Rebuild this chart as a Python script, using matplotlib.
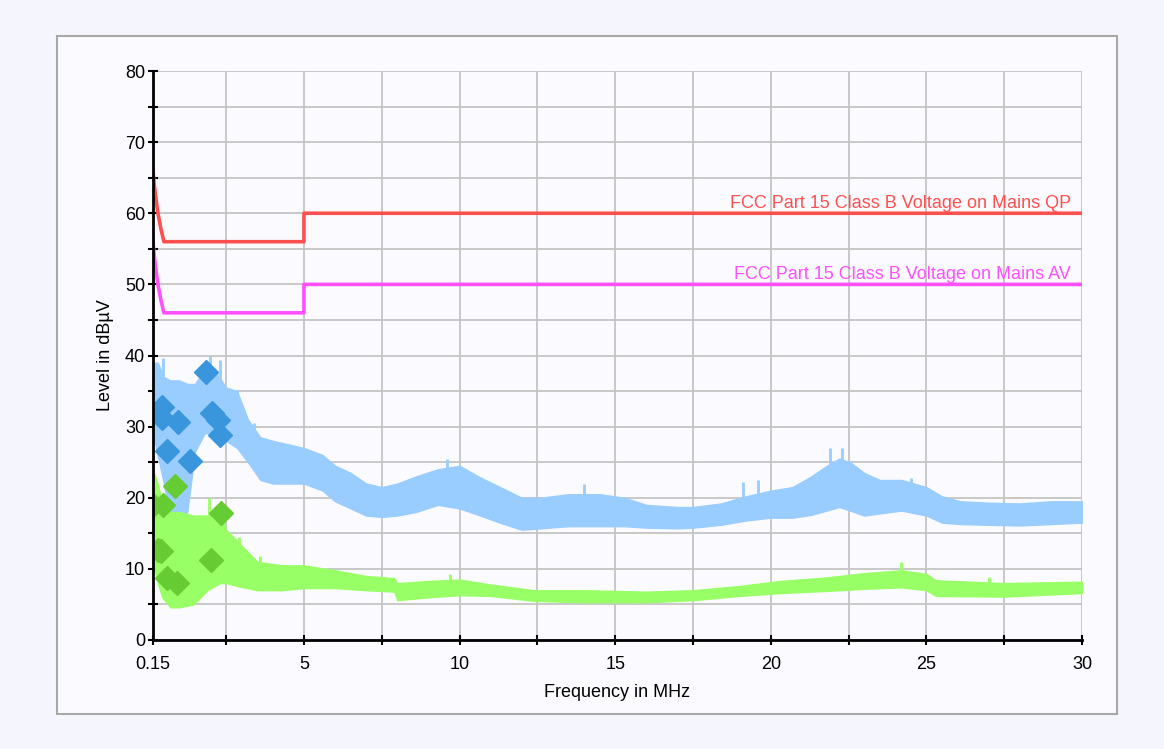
import matplotlib
matplotlib.use("Agg")
import matplotlib.pyplot as plt
from matplotlib.patches import Rectangle
from matplotlib.ticker import FixedLocator, NullFormatter

plt.rcParams['font.family'] = ['Liberation Sans', 'DejaVu Sans']

# limit lines (FCC Part 15 Class B, mains)
qp_freq = [0.15, 0.2, 0.3, 0.4, 0.5, 5.0, 5.0, 30.0]
qp_level = [66.0, 63.6, 60.2, 57.9, 56.0, 56.0, 60.0, 60.0]
av_freq = [0.15, 0.2, 0.3, 0.4, 0.5, 5.0, 5.0, 30.0]
av_level = [56.0, 53.6, 50.2, 47.9, 46.0, 46.0, 50.0, 50.0]

# peak scan, envelope (MHz, dBuV)
pk_freq = [0.15, 0.3, 0.5, 0.7, 1.0, 1.25, 1.5, 1.8, 2.2, 2.5, 2.85, 3.2, 3.6,
           4.0, 4.5, 5.0, 5.6, 6.0, 6.5, 7.0, 7.5, 8.0, 8.6, 9.3, 10.0, 10.6,
           11.3, 12.0, 12.6, 13.5, 14.5, 15.3, 16.0, 17.0, 17.5, 18.4, 19.2,
           20.0, 20.7, 21.3, 21.8, 22.2, 22.55, 23.0, 23.5, 24.2, 25.0, 25.5,
           26.1, 27.0, 28.0, 29.0, 30.0]
pk_low = [29, 26, 22, 17, 16.5, 18, 26.5, 29, 29.5, 28, 27, 25, 22.5,
          22, 22, 22, 21, 19.5, 18.5, 17.5, 17.3, 17.5, 18, 19, 18.5, 17.6,
          16.5, 15.5, 15.7, 16, 16, 16, 15.8, 15.7, 15.8, 16.2, 16.8,
          17.2, 17.2, 17.6, 18.2, 18.7, 18.2, 17.5, 17.8, 18.2, 17.5, 16.5,
          16.3, 16.2, 16.1, 16.3, 16.5]
pk_high = [39, 39, 37, 36.5, 36.5, 36, 36, 38, 37.5, 35.5, 35, 31, 28.5,
           28, 27.5, 27, 26, 24.5, 23.5, 22, 21.5, 22, 23, 24, 24.5, 23,
           21.5, 20, 20, 20.5, 20.5, 20, 19, 18.7, 18.7, 19.2, 20.2,
           21, 21.5, 23, 24.5, 25.5, 25, 23.5, 22.5, 22.5, 21.5, 20.2,
           19.5, 19.3, 19.2, 19.5, 19.5]

# isolated spikes sticking out of the peak trace
pk_spike_f = [0.47, 1.98, 2.3, 2.85, 3.4, 9.6, 14.0, 19.1, 19.6, 21.9, 22.3, 24.5]
pk_spike_v = [39.6, 40.0, 39.4, 35.2, 30.5, 25.5, 22.0, 22.2, 22.5, 27.0, 27.0, 22.8]

# average scan envelope
avg_freq = [0.15, 0.3, 0.45, 0.7, 1.0, 1.45, 1.9, 2.3, 2.5, 2.95, 3.5, 4.3,
            5.0, 6.0, 7.0, 7.9, 8.0, 9.0, 10.0, 11.0, 12.4, 14.0, 16.0, 17.5,
            19.0, 20.3, 21.8, 23.0, 24.2, 25.0, 25.3, 27.5, 30.0]
avg_low = [11, 8, 6, 4.6, 4.6, 5, 7, 8, 8, 7.5, 7, 7,
           7.3, 7.3, 7, 6.8, 5.6, 6, 6.3, 6.2, 5.5, 5.3, 5.3, 5.6,
           6.2, 6.6, 6.9, 7.2, 7.4, 7.0, 6.2, 6.1, 6.6]
avg_high = [24, 22, 19, 18, 18, 17.5, 17.5, 18.5, 15.5, 13.5, 11, 10.5,
            10.5, 9.8, 9, 8.7, 8, 8.3, 8.5, 7.8, 7, 7, 6.8, 7,
            7.6, 8.3, 8.8, 9.4, 9.8, 9.3, 8.4, 8, 8.2]

avg_spike_f = [1.95, 2.9, 3.6, 9.7, 24.2, 27.0]
avg_spike_v = [20.0, 14.5, 11.8, 9.3, 11.0, 8.8]

# final measurements
qp_pts_f = [0.43, 0.43, 0.96, 0.59, 1.34, 1.85, 2.03, 2.25, 2.30]
qp_pts_v = [32.8, 31.2, 30.7, 26.6, 25.2, 37.7, 31.9, 30.9, 28.8]
av_pts_f = [0.16, 0.46, 0.86, 0.30, 0.42, 0.59, 0.91, 2.01, 2.32]
av_pts_v = [19.0, 19.0, 21.6, 12.7, 12.5, 8.7, 8.0, 11.2, 17.8]

W, H = 1164, 749
fig = plt.figure(figsize=(W / 100, H / 100), dpi=100, facecolor='#f4f5fd')
fig.patches.append(Rectangle((57 / W, 1 - 714 / H), (1117 - 57) / W, (714 - 36) / H,
                             transform=fig.transFigure, facecolor='#fbfbff',
                             edgecolor='#a8a8a8', linewidth=1.5, zorder=-5))

ax = fig.add_axes([153 / W, 1 - 640 / H, (1082 - 153) / W, (640 - 71) / H])
ax.set_facecolor('none')

ax.fill_between(pk_freq, pk_low, pk_high, color='#99ccff', linewidth=1.0, zorder=2)
ax.vlines(pk_spike_f, [v - 3.5 for v in pk_spike_v], pk_spike_v, color='#99ccff',
          linewidth=2, zorder=2)
ax.fill_between(avg_freq, avg_low, avg_high, color='#99ff66', linewidth=1.0, zorder=3)
ax.vlines(avg_spike_f, [v - 2.5 for v in avg_spike_v], avg_spike_v, color='#99ff66',
          linewidth=2, zorder=3)

ax.plot(qp_pts_f, qp_pts_v, 'D', color='#3a96dc', markersize=12, zorder=5, linestyle='none')
ax.plot(av_pts_f, av_pts_v, 'D', color='#66cc33', markersize=12, zorder=5, linestyle='none')

ax.plot(qp_freq, qp_level, color='#ff5050', linewidth=2.6, zorder=6)
ax.plot(av_freq, av_level, color='#ff50ff', linewidth=2.6, zorder=6)

ax.text(29.65, 60.8, 'FCC Part 15 Class B Voltage on Mains QP', color='#ff5050',
        fontsize=13, ha='right', va='baseline', zorder=7)
ax.text(29.65, 50.7, 'FCC Part 15 Class B Voltage on Mains AV', color='#ff50ff',
        fontsize=13, ha='right', va='baseline', zorder=7)

ax.set_xlim(0.15, 30)
ax.set_ylim(0, 80)
ax.xaxis.set_major_locator(FixedLocator([0.15, 5, 10, 15, 20, 25, 30]))
ax.xaxis.set_minor_locator(FixedLocator([2.5, 7.5, 12.5, 17.5, 22.5, 27.5]))
ax.set_xticklabels(['0.15', '5', '10', '15', '20', '25', '30'])
ax.xaxis.set_minor_formatter(NullFormatter())
ax.yaxis.set_major_locator(FixedLocator(range(0, 81, 10)))
ax.yaxis.set_minor_locator(FixedLocator(range(5, 80, 10)))

ax.grid(True, which='both', color='#c4c4c4', linewidth=1.3, zorder=1)
ax.set_axisbelow(True)
for s in ['top', 'right']:
    ax.spines[s].set_visible(False)
for s in ['left', 'bottom']:
    ax.spines[s].set_linewidth(2)
    ax.spines[s].set_zorder(8)
ax.tick_params(which='both', direction='inout', length=7.5, width=1.5,
               labelsize=13, colors='black')
ax.tick_params(axis='y', which='both', pad=2)
ax.tick_params(axis='x', which='both', pad=8)

ax.set_xlabel('Frequency in MHz', fontsize=13, labelpad=8)
ax.set_ylabel('Level in dBµV', fontsize=13, labelpad=8)

fig.savefig('out.png', dpi=100, facecolor=fig.get_facecolor())
